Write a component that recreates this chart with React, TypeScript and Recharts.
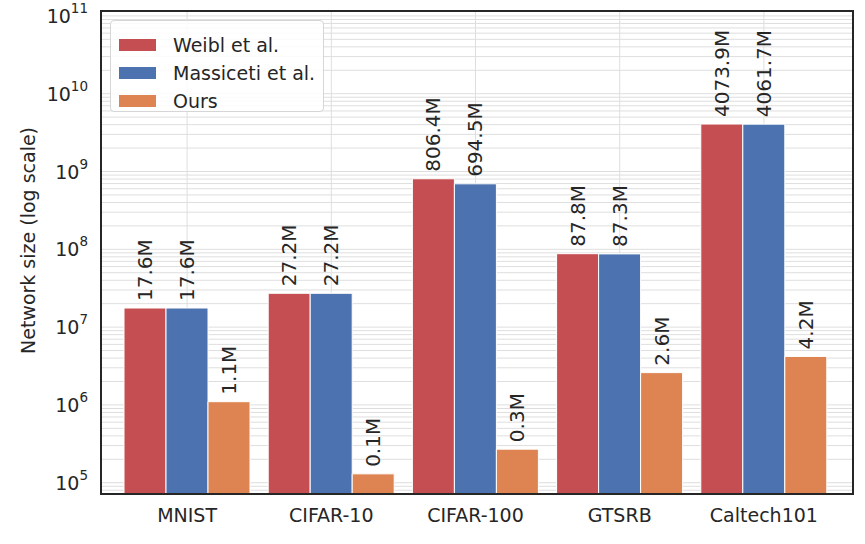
import { BarChart, Bar, XAxis, YAxis, CartesianGrid, Legend, LabelList, Label } from 'recharts'

// values in millions of parameters
const datasets = ['MNIST', 'CIFAR-10', 'CIFAR-100', 'GTSRB', 'Caltech101']
const weibl = [17.6, 27.2, 806.4, 87.8, 4073.9]
const massiceti = [17.6, 27.2, 694.5, 87.3, 4061.7]
const ours = [1.1, 0.13, 0.27, 2.6, 4.2]

// y ticks: decades (labelled) and minor steps (grid only)
const decades = [0.1, 1, 10, 100, 1000, 10000, 100000]
const minorSteps = [2, 3, 4, 5, 6, 7, 8, 9]
const extraLow = [0.08, 0.09]

const yTicks = [
  ...extraLow,
  ...decades.flatMap((d) => (d === 100000 ? [d] : [d, ...minorSteps.map((m) => d * m)])),
]

const data = datasets.map((name, i) => ({
  name,
  weibl: weibl[i],
  massiceti: massiceti[i],
  ours: ours[i],
}))

const FONT = 'DejaVu Sans, Verdana, sans-serif'
const TEXT = '#262626'

const series = [
  { key: 'weibl', label: 'Weibl et al.', color: '#C44E52' },
  { key: 'massiceti', label: 'Massiceti et al.', color: '#4C72B0' },
  { key: 'ours', label: 'Ours', color: '#DD8452' },
]

function LogTick({ x, y, payload }: any) {
  if (!decades.includes(payload.value)) return <g />
  const exp = Math.round(Math.log10(payload.value * 1e6))
  return (
    <text x={x} y={y} dy={7} textAnchor="end" fill={TEXT} fontFamily={FONT} fontSize={19}>
      10
      <tspan dy={-10} fontSize={13.5}>
        {exp}
      </tspan>
    </text>
  )
}

function BarValue({ x, y, width, value }: any) {
  const cx = x + width / 2
  const ty = y - 7
  return (
    <text
      x={cx}
      y={ty}
      transform={`rotate(-90, ${cx}, ${ty})`}
      textAnchor="start"
      dominantBaseline="central"
      fill={TEXT}
      fontFamily={FONT}
      fontSize={20}
    >
      {`${Number(value).toFixed(1)}M`}
    </text>
  )
}

function LegendBox() {
  return (
    <div
      style={{
        width: 214,
        height: 92,
        boxSizing: 'border-box',
        border: '1px solid #d6d6d6',
        borderRadius: 4,
        background: 'rgba(255,255,255,0.85)',
        padding: '10px 0 0 8px',
        fontFamily: FONT,
        fontSize: 19,
        color: TEXT,
      }}
    >
      {series.map((s) => (
        <div key={s.key} style={{ display: 'flex', alignItems: 'center', height: 28 }}>
          <span style={{ width: 37, height: 12, background: s.color, display: 'inline-block' }} />
          <span style={{ marginLeft: 17, lineHeight: '28px' }}>{s.label}</span>
        </div>
      ))}
    </div>
  )
}

export default function App() {
  return (
    <div style={{ position: 'absolute', left: 0, top: 0, width: 865, height: 544, background: '#fff' }}>
      <BarChart
        width={865}
        height={544}
        data={data}
        margin={{ top: 11, right: 12, bottom: 0, left: 0 }}
        barCategoryGap={9}
        barGap={0}
      >
        <CartesianGrid stroke="#dedede" strokeWidth={1} />
        <XAxis
          dataKey="name"
          height={50}
          padding={{ left: 14, right: 17 }}
          axisLine={false}
          tickLine={false}
          tickSize={0}
          tickMargin={15}
          tick={{ fill: TEXT, fontSize: 19, fontFamily: FONT }}
          interval={0}
        />
        <YAxis
          scale="log"
          domain={[0.0716, 115600]}
          allowDataOverflow
          ticks={yTicks}
          interval={0}
          width={101}
          axisLine={false}
          tickLine={false}
          tickSize={0}
          tickMargin={13}
          tick={<LogTick />}
        >
          <Label
            content={({ viewBox }: any) => {
              const cx = 28
              const cy = viewBox.y + viewBox.height / 2 - 12
              return (
                <text
                  x={cx}
                  y={cy}
                  transform={`rotate(-90, ${cx}, ${cy})`}
                  textAnchor="middle"
                  dominantBaseline="central"
                  fill={TEXT}
                  fontFamily={FONT}
                  fontSize={19}
                >
                  Network size (log scale)
                </text>
              )
            }}
          />
        </YAxis>
        <Legend
          layout="horizontal"
          verticalAlign="middle"
          align="center"
          content={<LegendBox />}
          wrapperStyle={{ left: 110, top: 20, width: 214, height: 92 }}
        />
        {series.map((s) => (
          <Bar
            key={s.key}
            dataKey={s.key}
            name={s.label}
            fill={s.color}
            stroke="#ffffff"
            strokeWidth={1}
            isAnimationActive={false}
          >
            <LabelList dataKey={s.key} content={<BarValue />} />
          </Bar>
        ))}
      </BarChart>
      <div
        style={{
          position: 'absolute',
          left: 100,
          top: 10,
          width: 754,
          height: 485,
          boxSizing: 'border-box',
          border: '2px solid #262626',
          pointerEvents: 'none',
        }}
      />
    </div>
  )
}
